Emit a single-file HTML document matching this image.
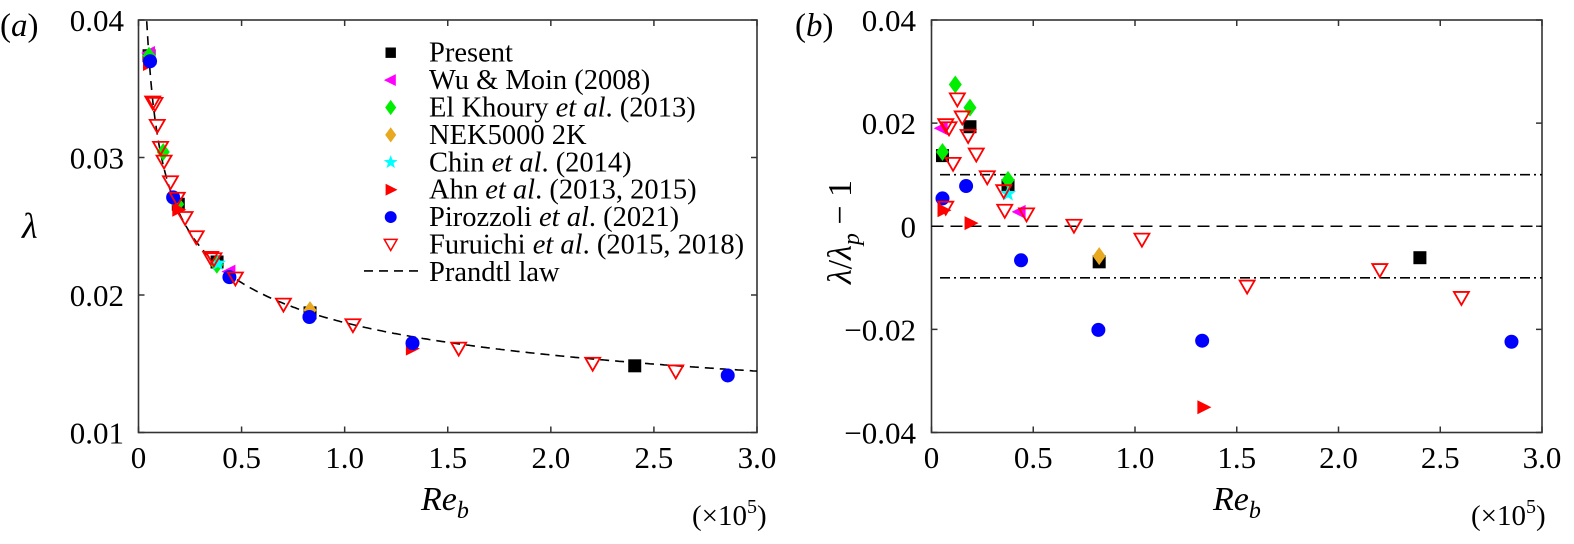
<!DOCTYPE html>
<html><head><meta charset="utf-8"><style>
html,body{margin:0;padding:0;background:#fff;font-family:'Liberation Serif','Times New Roman',serif;}
svg{display:block;}
svg text, svg tspan{font-family:'Liberation Serif','Times New Roman',serif !important;}
</style></head><body>
<svg id="fig" width="1574" height="544" viewBox="0 0 1574 544" xmlns="http://www.w3.org/2000/svg" font-family="Liberation Serif, serif">
<g id="pa"></g>
<g id="pb"></g>
<text x="0" y="36" font-size="33" style="font-family:'Liberation Serif',serif">(<tspan font-style="italic">a</tspan>)</text>
<text x="795" y="36" font-size="33" style="font-family:'Liberation Serif',serif">(<tspan font-style="italic">b</tspan>)</text>
<text x="421" y="510" font-size="34" font-style="italic" style="font-family:'Liberation Serif',serif">Re<tspan font-size="24" dy="8">b</tspan></text>
<text x="1213" y="510" font-size="34" font-style="italic" style="font-family:'Liberation Serif',serif">Re<tspan font-size="24" dy="8">b</tspan></text>
<text x="692" y="525" font-size="29" style="font-family:'Liberation Serif',serif">(×10<tspan font-size="20" dy="-12">5</tspan><tspan dy="12">)</tspan></text>
<text x="1471" y="525" font-size="29" style="font-family:'Liberation Serif',serif">(×10<tspan font-size="20" dy="-12">5</tspan><tspan dy="12">)</tspan></text>
<text x="22" y="238" font-size="36" font-style="italic" style="font-family:'Liberation Serif',serif">λ</text>
<text transform="translate(851,232) rotate(-90)" text-anchor="middle" font-size="34" style="font-family:'Liberation Serif',serif"><tspan font-style="italic">λ</tspan>/<tspan font-style="italic">λ</tspan><tspan font-style="italic" font-size="24" dy="8">p</tspan><tspan dy="-8"> − 1</tspan></text>
</svg>
<script>
// ---- data (Re_b in 1e5) ----
const presentRe = [0.051, 0.193, 0.381, 0.832, 2.407];
const presentLam = [0.0374, 0.0266, 0.0224, 0.0187, 0.01485];
const presentRe2 = [0.054, 0.189, 0.376, 0.824, 2.40];
const presentDev = [0.0137, 0.0193, 0.0079, -0.0069, -0.0061];
const wuRe = [0.051, 0.441];
const wuLam = [0.0376, 0.0217];
const wuRe2 = [0.05, 0.433];
const wuDev = [0.019, 0.0028];
const khouryRe = [0.051, 0.12, 0.19, 0.38];
const khouryLam = [0.0374, 0.0304, 0.0266, 0.0222];
const khouryRe2 = [0.054, 0.117, 0.189, 0.376];
const khouryDev = [0.0144, 0.0275, 0.023, 0.009];
const nekRe = [0.832];
const nekLam = [0.0189];
const nekRe2 = [0.824];
const nekDev = [-0.0058];
const chinRe = [0.385];
const chinLam = [0.0223];
const chinRe2 = [0.376];
const chinDev = [0.0063];
const ahnRe = [0.051, 0.193, 1.326];
const ahnLam = [0.0368, 0.0262, 0.0161];
const ahnRe2 = [0.059, 0.192, 1.336];
const ahnDev = [0.0031, 0.0006, -0.0351];
const piroRe = [0.056, 0.168, 0.441, 0.829, 1.329, 2.858];
const piroLam = [0.0370, 0.0271, 0.0213, 0.0184, 0.0165, 0.01415];
const piroRe2 = [0.054, 0.17, 0.44, 0.82, 1.33, 2.85];
const piroDev = [0.0054, 0.0078, -0.0066, -0.0201, -0.0222, -0.0224];
const furuRe = [0.069, 0.08, 0.091, 0.107, 0.124, 0.155, 0.188, 0.226, 0.28, 0.35, 0.366, 0.47, 0.703, 1.04, 1.553, 2.203, 2.606];
const furuLam = [0.0340, 0.0339, 0.0323, 0.0307, 0.0297, 0.0282, 0.0270, 0.0256, 0.0242, 0.0227, 0.0226, 0.0212, 0.0193, 0.0178, 0.0161, 0.0150, 0.01444];
const furuRe2 = [0.07, 0.086, 0.07, 0.106, 0.127, 0.151, 0.18, 0.22, 0.274, 0.355, 0.36, 0.467, 0.70, 1.034, 1.551, 2.203, 2.604];
const furuDev = [0.0196, 0.019, 0.0036, 0.0121, 0.0246, 0.0211, 0.0175, 0.0139, 0.0095, 0.0068, 0.003, 0.0023, 0.0001, -0.0026, -0.0117, -0.0085, -0.0139];
const xTicks = [0, 0.5, 1.0, 1.5, 2.0, 2.5, 3.0];
const xTickLabels = ["0", "0.5", "1.0", "1.5", "2.0", "2.5", "3.0"];
const yTicksA = [0.01, 0.02, 0.03, 0.04];
const yTickLabelsA = ["0.01", "0.02", "0.03", "0.04"];
const yTicksB = [-0.04, -0.02, 0, 0.02, 0.04];
const yTickLabelsB = ["\u22120.04", "\u22120.02", "0", "0.02", "0.04"];
const legendLabels = ["Present", "Wu & Moin (2008)", "El Khoury |et al|. (2013)", "NEK5000 2K", "Chin |et al|. (2014)", "Ahn |et al|. (2013, 2015)", "Pirozzoli |et al|. (2021)", "Furuichi |et al|. (2015, 2018)", "Prandtl law"];

const NS = "http://www.w3.org/2000/svg";
function mk(tag, attrs, parent) {
  const e = document.createElementNS(NS, tag);
  for (const k in attrs) e.setAttribute(k, attrs[k]);
  if (tag === "text") e.setAttribute("style", "font-family:'Liberation Serif',serif");
  parent.appendChild(e);
  return e;
}
const A = {x0: 138.5, x1: 757, y0: 432.5, y1: 20, ymin: 0.01, ymax: 0.04};
const B = {x0: 931.5, x1: 1542, y0: 432.5, y1: 20, ymin: -0.04, ymax: 0.04};
function sx(ax, v) { return ax.x0 + v / 3 * (ax.x1 - ax.x0); }
function sy(ax, v) { return ax.y0 - (v - ax.ymin) / (ax.ymax - ax.ymin) * (ax.y0 - ax.y1); }

function marker(g, type, cx, cy) {
  let e;
  if (type === "square") e = mk("rect", {x: cx - 6.5, y: cy - 6.5, width: 13, height: 13, fill: "#000"}, g);
  else if (type === "wu") e = mk("polygon", {points: `${cx-8},${cy} ${cx+6},${cy-7} ${cx+6},${cy+7}`, fill: "#ff00ff"}, g);
  else if (type === "khoury") e = mk("polygon", {points: `${cx},${cy-9} ${cx+6.5},${cy} ${cx},${cy+9} ${cx-6.5},${cy}`, fill: "#00ee00"}, g);
  else if (type === "nek") e = mk("polygon", {points: `${cx},${cy-9} ${cx+6.5},${cy} ${cx},${cy+9} ${cx-6.5},${cy}`, fill: "#e8a820"}, g);
  else if (type === "chin") {
    let pts = [];
    for (let i = 0; i < 10; i++) { const r = i % 2 ? 3.5 : 8.5; const a = -Math.PI / 2 + i * Math.PI / 5; pts.push((cx + r * Math.cos(a)).toFixed(1) + "," + (cy + r * Math.sin(a)).toFixed(1)); }
    e = mk("polygon", {points: pts.join(" "), fill: "#00ffff"}, g);
  }
  else if (type === "ahn") e = mk("polygon", {points: `${cx+8},${cy} ${cx-6},${cy-7} ${cx-6},${cy+7}`, fill: "#ff0000"}, g);
  else if (type === "piro") e = mk("circle", {cx: cx, cy: cy, r: 7, fill: "#0000ff"}, g);
  else if (type === "furu") e = mk("polygon", {points: `${cx-7.5},${cy-6} ${cx+7.5},${cy-6} ${cx},${cy+7}`, fill: "none", stroke: "#ff0000", "stroke-width": 1.8}, g);
  return e;
}

function axes(g, ax, yTicks, yLabels, lblRight, prefix) {
  const fr = mk("rect", {x: ax.x0, y: ax.y1, width: ax.x1 - ax.x0, height: ax.y0 - ax.y1, fill: "none", stroke: "#333", "stroke-width": 1.6}, g);
  
  
  xTicks.forEach((t, i) => {
    const x = sx(ax, t);
    mk("line", {x1: x, x2: x, y1: ax.y0, y2: ax.y0 - 6, stroke: "#333", "stroke-width": 1.5}, g);
    mk("line", {x1: x, x2: x, y1: ax.y1, y2: ax.y1 + 6, stroke: "#333", "stroke-width": 1.5}, g);
    const tx = mk("text", {x: x, y: 468, "font-size": 31, "text-anchor": "middle"}, g);
    tx.textContent = xTickLabels[i];
    
    
  });
  yTicks.forEach((t, i) => {
    const y = sy(ax, t);
    mk("line", {x1: ax.x0, x2: ax.x0 + 6, y1: y, y2: y, stroke: "#333", "stroke-width": 1.5}, g);
    mk("line", {x1: ax.x1, x2: ax.x1 - 6, y1: y, y2: y, stroke: "#333", "stroke-width": 1.5}, g);
    const tx = mk("text", {x: lblRight, y: y + 11, "font-size": 31, "text-anchor": "end"}, g);
    tx.textContent = yLabels[i];
    
    
  });
}

const series = [
  ["present", "square", presentRe, presentLam, presentRe2, presentDev],
  ["wu-moin", "wu", wuRe, wuLam, wuRe2, wuDev],
  ["el-khoury", "khoury", khouryRe, khouryLam, khouryRe2, khouryDev],
  ["nek5000", "nek", nekRe, nekLam, nekRe2, nekDev],
  ["chin", "chin", chinRe, chinLam, chinRe2, chinDev],
  ["ahn", "ahn", ahnRe, ahnLam, ahnRe2, ahnDev],
  ["pirozzoli", "piro", piroRe, piroLam, piroRe2, piroDev],
  ["furuichi", "furu", furuRe, furuLam, furuRe2, furuDev]
];

// ---- Panel A ----
const ga = document.getElementById("pa");
axes(ga, A, yTicksA, yTickLabelsA, 124, "panel-a");
function prandtl(re) { let l = 0.02; for (let i = 0; i < 60; i++) { const s = Math.sqrt(l); l = Math.pow(2 * Math.log10(re * s) - 0.8, -2); } return l; }
let d = "";
for (let r = 0.04; r <= 3.0001; r += 0.01) {
  const l = prandtl(r * 1e5);
  const y = Math.max(sy(A, l), A.y1);
  d += (d ? " L" : "M") + sx(A, r).toFixed(1) + "," + y.toFixed(1);
}
const curve = mk("path", {d: d, fill: "none", stroke: "#000", "stroke-width": 1.6, "stroke-dasharray": "9 6"}, ga);


series.forEach(s => {
  const g = mk("g", {}, ga);
  
  
  s[2].forEach((re, i) => {
    const m = marker(g, s[1], sx(A, re), sy(A, s[3][i]));
    
    
  });
});
const lg = mk("g", {}, ga);


const types = ["square", "wu", "khoury", "nek", "chin", "ahn", "piro", "furu"];
legendLabels.forEach((lab, i) => {
  const y = 52.7 + i * 27.4;
  const ent = mk("g", {}, lg);
  
  
  if (i < 8) {
    const sc = types[i] === "square" ? 0.8 : 0.85;
    const mg = mk("g", {transform: `translate(390.7,${y}) scale(${sc}) translate(-390.7,${-y})`}, ent);
    marker(mg, types[i], 390.7, y);
  } else {
    mk("line", {x1: 364, x2: 418, y1: y - 1, y2: y - 1, stroke: "#000", "stroke-width": 1.6, "stroke-dasharray": "9 6"}, ent);
  }
  const t = mk("text", {x: 429, y: y + 9, "font-size": 28.5}, ent);
  lab.split("|").forEach((part, k) => {
    const sp = mk("tspan", {}, t);
    if (k % 2 === 1) sp.setAttribute("font-style", "italic");
    sp.textContent = part;
  });
});

// ---- Panel B ----
const gb = document.getElementById("pb");
axes(gb, B, yTicksB, yTickLabelsB, 916, "panel-b");
const refLines = [[0.01, "10 4 2 4", 940], [0, "12 7", B.x0], [-0.01, "10 4 2 4", 940]];
refLines.forEach(r => {
  const l = mk("line", {x1: r[2], x2: B.x1, y1: sy(B, r[0]), y2: sy(B, r[0]), stroke: "#000", "stroke-width": 1.6, "stroke-dasharray": r[1]}, gb);
  
  
});
series.forEach(s => {
  const g = mk("g", {}, gb);
  
  
  s[4].forEach((re, i) => {
    const m = marker(g, s[1], sx(B, re), sy(B, s[5][i]));
    
    
  });
});
</script>
</body></html>
